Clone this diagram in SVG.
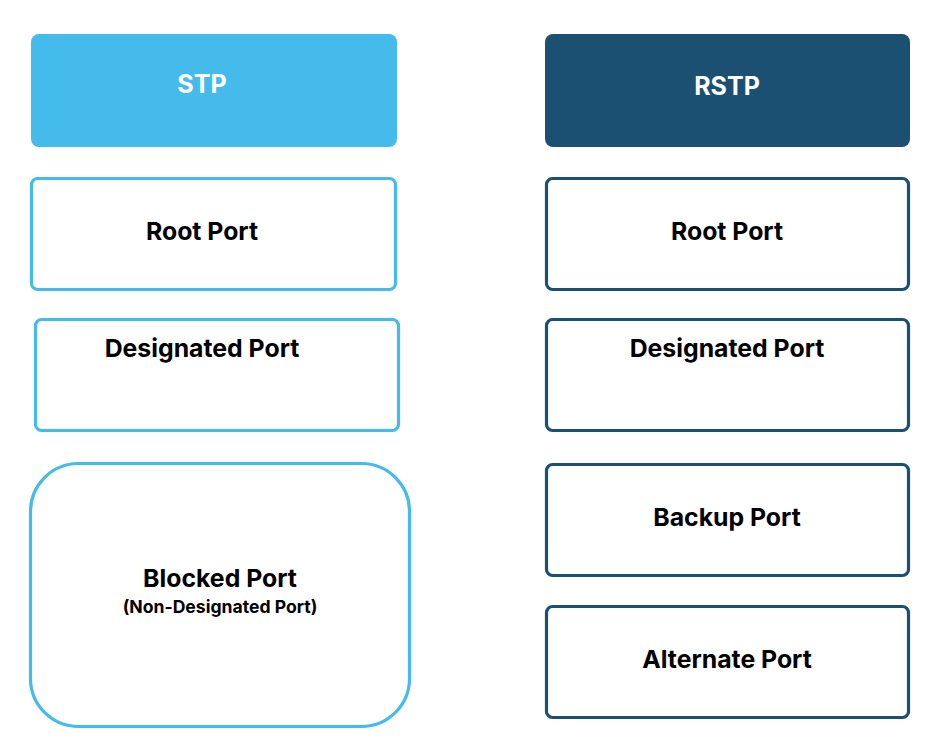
<svg xmlns="http://www.w3.org/2000/svg" width="941" height="751" viewBox="0 0 941 751">
<style>
  .hdr-l { fill: #44bbea; }
  .hdr-r { fill: #1b5072; }
  .box-l { fill: #ffffff; stroke: #44bbea; stroke-width: 3.2; }
  .box-r { fill: #ffffff; stroke: #1b5072; stroke-width: 3.2; }
  text { font-family: Inter, "Liberation Sans", sans-serif; font-weight: 700; text-anchor: middle; }
  .h { fill: #ffffff; font-size: 25px; }
  .t { fill: #000000; font-size: 24.8px; }
  .s { fill: #000000; font-size: 17.6px; }
</style>
<rect width="941" height="751" fill="#ffffff"/>
<g id="stp-header"><rect class="hdr-l" x="31" y="34" width="366" height="113" rx="8"/><text class="h" x="202" y="93">STP</text></g>
<g id="stp-root"><rect class="box-l" x="31.5" y="178.5" width="364" height="111" rx="6"/><text class="t" x="202" y="240">Root Port</text></g>
<g id="stp-designated"><rect class="box-l" x="35.5" y="319.5" width="363" height="111" rx="6"/><text class="t" x="202" y="357">Designated Port</text></g>
<g id="stp-blocked"><rect class="box-l" x="30.5" y="463.5" width="379" height="263" rx="48"/><text class="t" x="220" y="587">Blocked Port</text><text class="s" x="220" y="613">(Non-Designated Port)</text></g>
<g id="rstp-header"><rect class="hdr-r" x="545" y="34" width="365" height="113" rx="8"/><text class="h" x="727" y="95">RSTP</text></g>
<g id="rstp-root"><rect class="box-r" x="546.5" y="178.5" width="362" height="111" rx="6"/><text class="t" x="727" y="240">Root Port</text></g>
<g id="rstp-designated"><rect class="box-r" x="546.5" y="319.5" width="362" height="111" rx="6"/><text class="t" x="727" y="357">Designated Port</text></g>
<g id="rstp-backup"><rect class="box-r" x="546.5" y="464.5" width="362" height="111" rx="6"/><text class="t" x="727" y="526">Backup Port</text></g>
<g id="rstp-alternate"><rect class="box-r" x="546.5" y="606.5" width="362" height="111" rx="6"/><text class="t" x="727" y="668">Alternate Port</text></g>
<g id="connectors"></g>
</svg>
